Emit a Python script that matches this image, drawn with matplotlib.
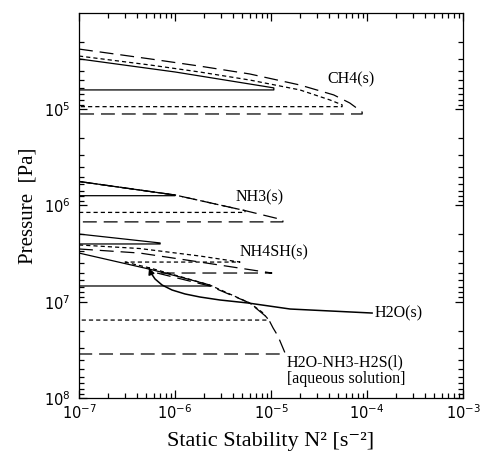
import matplotlib
matplotlib.use('Agg')
import matplotlib.pyplot as plt

plt.rcParams['mathtext.fontset'] = 'custom'
plt.rcParams['mathtext.rm'] = 'Liberation Sans'
plt.rcParams['mathtext.it'] = 'Liberation Sans:italic'
plt.rcParams['mathtext.bf'] = 'Liberation Sans:bold'
plt.rcParams['lines.scale_dashes'] = False

SERIF = ['Liberation Serif', 'DejaVu Serif']
LONG = (0, (10, 5))
SHORT = (0, (3, 2.2))
LW = 0.9

# CH4(s) layer: N^2 [s-2] vs pressure [Pa], base pressure
ch4_solid_n2 = [1e-7, 1e-6, 1.07e-5]
ch4_solid_p = [3.0e4, 4.1e4, 6.0e4]
ch4_solid_base = 6.3e4
ch4_short_n2 = [1e-7, 5.5e-7, 1.8e-6, 6.0e-6, 2.0e-5, 4.1e-5, 5.5e-5]
ch4_short_p = [2.8e4, 3.47e4, 4.1e4, 4.97e4, 6.3e4, 8.0e4, 9.0e4]
ch4_short_base = 9.4e4
ch4_long_n2 = [1e-7, 5.5e-7, 1.8e-6, 6.0e-6, 2.0e-5, 4.5e-5, 6.6e-5, 8.9e-5]
ch4_long_p = [2.37e4, 3.0e4, 3.56e4, 4.3e4, 5.6e4, 7.1e4, 8.6e4, 1.07e5]
ch4_long_base = 1.12e5

# NH3(s) layer (the three runs share one profile, ending at different depths)
nh3_n2 = [1e-7, 1e-6, 5.36e-6, 1.33e-5]
nh3_p = [5.63e5, 7.78e5, 1.13e6, 1.41e6]
nh3_solid_base = 7.91e5
nh3_short_base = 1.18e6
nh3_long_base = 1.48e6

# NH4SH(s) layer
nh4sh_solid_n2 = [1e-7, 7.0e-7]
nh4sh_solid_p = [1.98e6, 2.45e6]
nh4sh_solid_base = 2.51e6
nh4sh_short_n2 = [1e-7, 4.3e-7, 1.82e-6, 4.75e-6]
nh4sh_short_p = [2.57e6, 2.80e6, 3.35e6, 3.87e6]
nh4sh_short_left = 3.0e-7
nh4sh_long_n2 = [1e-7, 4.3e-7, 1.82e-6, 1.02e-5]
nh4sh_long_p = [2.83e6, 3.12e6, 3.87e6, 5.03e6]
nh4sh_long_left = 6.5e-7

# H2O layer (ice + aqueous solution)
h2o_solid_n2 = [1e-7, 5.5e-7, 1.13e-6, 2.3e-6]
h2o_solid_p = [3.12e6, 4.6e6, 5.53e6, 6.70e6]
h2o_solid_base = 6.86e6
h2o_short_n2 = [3.0e-7, 5.5e-7, 2.3e-6, 6.0e-6, 8.05e-6, 9.3e-6]
h2o_short_p = [3.87e6, 4.46e6, 6.70e6, 1.03e7, 1.28e7, 1.51e7]
h2o_short_base = 1.55e7
h2o_long_n2 = [6.5e-7, 2.3e-6, 6.0e-6, 9.3e-6, 1.05e-5, 1.18e-5, 1.40e-5]
h2o_long_p = [5.03e6, 6.86e6, 1.03e7, 1.48e7, 1.87e7, 2.27e7, 3.41e7]
h2o_long_base = 3.49e7

# leader arrow from the H2O(s) label
arrow_n2 = [1.13e-4, 1.58e-5, 5.75e-6, 2.94e-6, 1.82e-6, 1.27e-6, 9.31e-7,
            7.33e-7, 6.19e-7, 5.62e-7, 5.36e-7]
arrow_p = [1.31e7, 1.19e7, 1.03e7, 9.59e6, 8.93e6, 8.30e6, 7.55e6,
           6.70e6, 5.80e6, 5.03e6, 4.46e6]


def cloud(ax, n2, p, base, ls, left=1e-7):
    xs = list(n2) + [n2[-1], left]
    ys = list(p) + [base, base]
    ax.plot(xs, ys, color='k', lw=LW, linestyle=ls)


fig = plt.figure(figsize=(4.88, 4.59), dpi=100)
ax = fig.add_axes([0.1619, 0.1329, 0.7869, 0.8388])

cloud(ax, ch4_solid_n2, ch4_solid_p, ch4_solid_base, '-')
cloud(ax, ch4_short_n2, ch4_short_p, ch4_short_base, SHORT)
cloud(ax, ch4_long_n2, ch4_long_p, ch4_long_base, LONG)

cloud(ax, nh3_n2[:2], nh3_p[:2], nh3_solid_base, '-')
cloud(ax, nh3_n2[:3], nh3_p[:3], nh3_short_base, SHORT)
cloud(ax, nh3_n2, nh3_p, nh3_long_base, LONG)

cloud(ax, nh4sh_solid_n2, nh4sh_solid_p, nh4sh_solid_base, '-')
cloud(ax, nh4sh_short_n2, nh4sh_short_p, nh4sh_short_p[-1], SHORT, nh4sh_short_left)
cloud(ax, nh4sh_long_n2, nh4sh_long_p, nh4sh_long_p[-1], LONG, nh4sh_long_left)

cloud(ax, h2o_solid_n2, h2o_solid_p, h2o_solid_base, '-')
cloud(ax, h2o_short_n2, h2o_short_p, h2o_short_base, SHORT)
cloud(ax, h2o_long_n2, h2o_long_p, h2o_long_base, LONG)

ax.plot(arrow_n2, arrow_p, color='k', lw=1.1)
ax.annotate('', xy=(arrow_n2[-1], arrow_p[-1]), xytext=(arrow_n2[-2], arrow_p[-2]),
            arrowprops=dict(arrowstyle='-|>', color='k', lw=1.1, mutation_scale=9,
                            shrinkA=0, shrinkB=0))

tkw = dict(family=SERIF, fontsize=11.5)
ax.text(6.8e-5, 4.85e4, 'CH4(s)', ha='center', va='center', **tkw)
ax.text(7.7e-6, 8.2e5, 'NH3(s)', ha='center', va='center', **tkw)
ax.text(1.07e-5, 3.04e6, 'NH4SH(s)', ha='center', va='center', **tkw)
ax.text(1.2e-4, 1.31e7, 'H2O(s)', ha='left', va='center', **tkw)
ax.text(1.47e-5, 4.23e7, 'H2O-NH3-H2S(l)', ha='left', va='center', **tkw)
ax.text(1.47e-5, 6.35e7, '[aqueous solution]', ha='left', va='center', **tkw)

ax.set_xscale('log')
ax.set_yscale('log')
ax.set_xlim(1e-7, 1e-3)
ax.set_ylim(1e8, 1e4)
ax.set_xticks([1e-7, 1e-6, 1e-5, 1e-4, 1e-3])
ax.set_yticks([1e5, 1e6, 1e7, 1e8])
ax.tick_params(which='both', direction='in', top=True, right=True, width=0.9)
ax.tick_params(which='major', length=6, labelsize=10.5)
ax.tick_params(which='minor', length=3.5)
ax.tick_params(axis='y', pad=6)
ax.tick_params(axis='x', pad=4)
for s in ax.spines.values():
    s.set_linewidth(0.9)

ax.set_xlabel('Static Stability N² [s⁻²]', family=SERIF, fontsize=16, labelpad=7)
ax.set_ylabel('Pressure  [Pa]', family=SERIF, fontsize=15, labelpad=5)

fig.savefig('out.png', dpi=100)
